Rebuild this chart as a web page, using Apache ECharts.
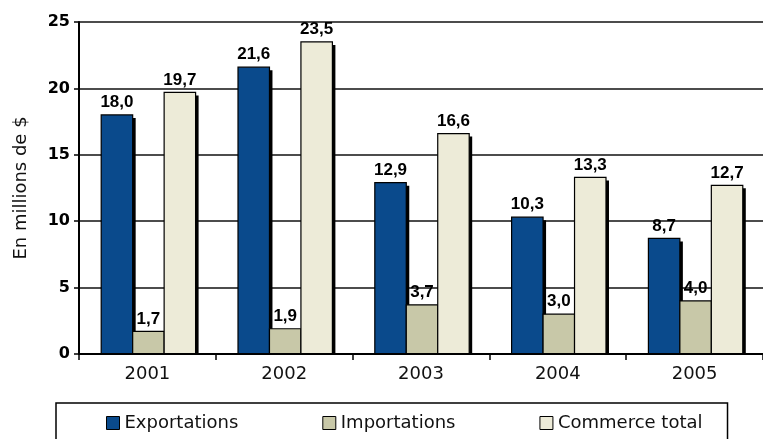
<!DOCTYPE html>
<html>
<head>
<meta charset="utf-8">
<script src="https://cdn.jsdelivr.net/npm/echarts@6/dist/echarts.min.js"></script>
<style>
html,body{margin:0;padding:0;background:#fff;}
#c{width:763px;height:439px;}
</style>
</head>
<body>
<div id="c"></div>
<script>
const years = ['2001','2002','2003','2004','2005'];
const exportations = [18.0, 21.6, 12.9, 10.3, 8.7];
const importations = [1.7, 1.9, 3.7, 3.0, 4.0];
const commerceTotal = [19.7, 23.5, 16.6, 13.3, 12.7];
const seriesNames = ['Exportations', 'Importations', 'Commerce total'];
const seriesColors = ['#0A4A8C', '#C8C8A8', '#EDEBD8'];
const yTicks = [0, 5, 10, 15, 20, 25];

const chart = echarts.init(document.getElementById('c'));
const fmt = v => v.toFixed(1).replace('.', ',');
const GROUP_FRAC = 0.69;

function mk(idx, values) {
  const color = seriesColors[idx];
  return {
    name: seriesNames[idx],
    type: 'custom',
    coordinateSystem: 'cartesian2d',
    itemStyle: { color: color, borderColor: '#000', borderWidth: 1 },
    encode: { x: 0, y: 1 },
    data: values.map((v, i) => [i, v]),
    renderItem: function (params, api) {
      const cat = api.value(0);
      const val = api.value(1);
      const base = api.coord([cat, 0]);
      const top = api.coord([cat, val]);
      const band = api.size([1, 0])[0];
      const bw = band * GROUP_FRAC / 3;
      const x = base[0] - 1.5 * bw + idx * bw + 1;
      const h = base[1] - top[1];
      return {
        type: 'group',
        children: [
          { type: 'rect', shape: { x: x + 3, y: top[1] + 3, width: bw, height: Math.max(0, h - 3) }, style: { fill: '#000' } },
          { type: 'rect', shape: { x: x, y: top[1], width: bw, height: h }, style: { fill: color, stroke: '#000', lineWidth: 1.2 } },
          { type: 'text', style: { text: fmt(val), x: x + bw / 2, y: top[1] - 4, align: 'center', verticalAlign: 'bottom',
              font: 'bold 17px "Liberation Sans", Arial, sans-serif', fill: '#000' } }
        ]
      };
    }
  };
}

chart.setOption({
  animation: false,
  backgroundColor: '#fff',
  grid: { left: 79, top: 22, bottom: 85, right: -8 },
  xAxis: {
    type: 'category',
    data: years,
    axisLine: { lineStyle: { color: '#000', width: 2 } },
    axisTick: { show: true, length: 6, lineStyle: { color: '#000', width: 1.5 } },
    axisLabel: { fontFamily: 'DejaVu Sans', fontSize: 18, color: '#111', margin: 11 },
    z: 5
  },
  yAxis: {
    type: 'value',
    min: yTicks[0],
    max: yTicks[yTicks.length - 1],
    interval: 5,
    name: 'En millions de $',
    nameLocation: 'middle',
    nameGap: 49,
    nameTextStyle: { fontFamily: 'DejaVu Sans', fontSize: 18, color: '#111' },
    axisLine: { show: true, lineStyle: { color: '#000', width: 2 } },
    axisTick: { show: true, length: 5, lineStyle: { color: '#000', width: 1.5 } },
    axisLabel: { fontFamily: 'DejaVu Sans', fontWeight: 'bold', fontSize: 16, color: '#000', margin: 9 },
    splitLine: { show: true, lineStyle: { color: '#111', width: 1.6 } }
  },
  legend: {
    data: seriesNames,
    left: 56,
    top: 403,
    orient: 'horizontal',
    padding: [11, 25, 10, 50],
    itemGap: 84,
    itemWidth: 13,
    itemHeight: 13,
    icon: 'rect',
    borderColor: '#000',
    borderWidth: 1.5,
    itemStyle: { borderColor: '#000', borderWidth: 1 },
    textStyle: { fontFamily: 'DejaVu Sans', fontSize: 18, color: '#111' }
  },
  series: [
    mk(0, exportations),
    mk(1, importations),
    mk(2, commerceTotal)
  ]
});
</script>
</body>
</html>
